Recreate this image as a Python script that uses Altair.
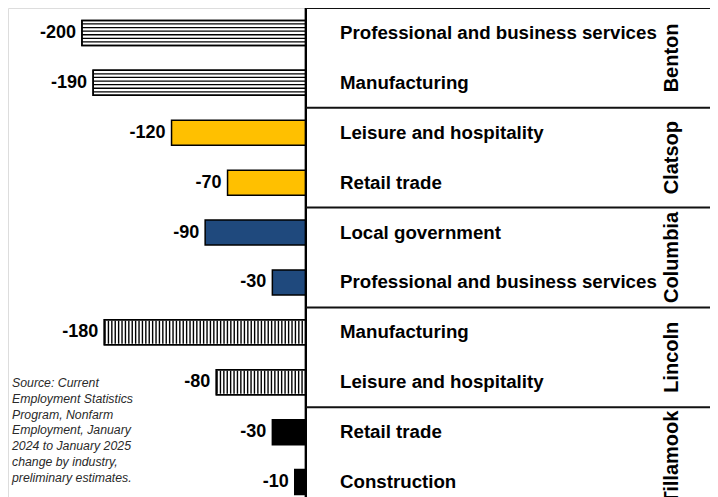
import altair as alt
import pandas as pd

counties = ["Benton", "Benton", "Clatsop", "Clatsop", "Columbia", "Columbia",
            "Lincoln", "Lincoln", "Tillamook", "Tillamook"]
industries = ["Professional and business services", "Manufacturing",
              "Leisure and hospitality", "Retail trade",
              "Local government", "Professional and business services",
              "Manufacturing", "Leisure and hospitality",
              "Retail trade", "Construction"]
values = [-200, -190, -120, -70, -90, -30, -180, -80, -30, -10]

fill_counties = ["Benton", "Clatsop", "Columbia", "Lincoln", "Tillamook"]
fill_colors = ["#FFFFFF", "#FFC000", "#1F497D", "#FFFFFF", "#000000"]

source_lines = ["Source: Current", "Employment Statistics", "Program, Nonfarm",
                "Employment, January", "2024 to January 2025",
                "change by industry,", "preliminary estimates."]

row_ids = [f"r{i}" for i in range(len(values))]
df = pd.DataFrame({"row": row_ids, "county": counties, "industry": industries,
                   "value": values, "label": [str(v) for v in values]})

FONT = "Liberation Sans"
W = 702
STEP = 49.9
H = STEP * len(values)
XMIN, XMAX = -266, 360.7

yscale = alt.Scale(domain=row_ids, paddingInner=0, paddingOuter=0)
xscale = alt.Scale(domain=[XMIN, XMAX], nice=False, zero=False)
Y = alt.Y("row:N", scale=yscale, axis=None)
X = alt.X("value:Q", scale=xscale, axis=None)
XZ = alt.X("zero:Q", scale=xscale, axis=None)

base = alt.Chart(df).transform_calculate(zero="0")
BAR = 25

bars = base.mark_bar(size=BAR, stroke="black", strokeWidth=1.5).encode(
    x=X, x2="zero:Q", y=Y,
    fill=alt.Fill("county:N", scale=alt.Scale(domain=fill_counties, range=fill_colors),
                  legend=None),
)

# horizontal stripes (Benton)
benton = base.transform_filter(alt.datum.county == "Benton")
h_layers = []
for k in range(6):
    off = -9.0 + k * 3.6
    h_layers.append(
        benton.mark_bar(size=1.3, color="black", yOffset=off).encode(
            x=X, x2="zero:Q", y=Y)
    )

# vertical stripes (Lincoln)
v_stripes = base.transform_filter(alt.datum.county == "Lincoln").mark_rule(
    color="black", strokeWidth=BAR - 2, strokeDash=[1.4, 2.0], strokeCap="butt"
).encode(x=X, x2="zero:Q", y=Y)

outline = base.transform_filter(
    (alt.datum.county == "Benton") | (alt.datum.county == "Lincoln")
).mark_bar(size=BAR, stroke="black", strokeWidth=1.5, fillOpacity=0).encode(
    x=X, x2="zero:Q", y=Y)

zero_rule = base.mark_rule(color="black", strokeWidth=2).encode(x=XZ)

first_rows = df[df["county"] != df["county"].shift()].reset_index(drop=True)
mid_rows = df[df["county"] == df["county"].shift()].reset_index(drop=True)

seps = alt.Chart(first_rows).transform_calculate(zero="0").mark_rule(
    color="#111111", strokeWidth=2, yOffset=-STEP / 2
).encode(y=Y, x=XZ, x2=alt.value(W))

county_text = alt.Chart(mid_rows).mark_text(
    angle=270, align="center", baseline="middle", fontSize=20, fontWeight="bold",
    font=FONT, color="black", yOffset=-STEP / 2
).encode(y=Y, x=alt.value(664), text="county:N")

industry_text = base.mark_text(
    align="left", baseline="middle", fontSize=18.7, fontWeight="bold", font=FONT,
    color="black"
).encode(x=alt.value(332), y=Y, text="industry:N")

value_text = base.mark_text(
    align="right", baseline="middle", dx=-6, fontSize=18, fontWeight="bold",
    font=FONT, color="black"
).encode(x=X, y=Y, text="label:N")

source = alt.Chart(pd.DataFrame({"t": ["\n".join(source_lines)]})).mark_text(
    lineBreak="\n", align="left", baseline="top", fontStyle="italic",
    fontSize=12.3, lineHeight=15.8, font=FONT, color="#2a2a2a"
).encode(x=alt.value(4), y=alt.value(369), text="t:N")

chart = alt.layer(
    bars, *h_layers, v_stripes, outline, zero_rule, seps, county_text,
    industry_text, value_text, source
).properties(
    width=W, height=H, padding=0,
    autosize=alt.AutoSizeParams(type="none"),
).configure_view(strokeWidth=0).configure(font=FONT)

chart.save("out.html", embed_options={"renderer": "svg", "actions": False})
